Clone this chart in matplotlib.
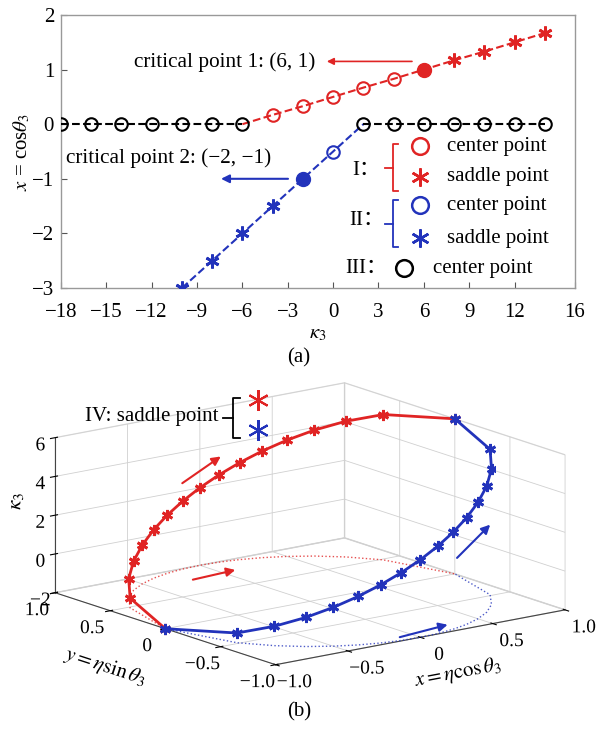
import matplotlib
matplotlib.use('Agg')
import matplotlib.pyplot as plt
import matplotlib.patheffects as pe
from matplotlib.lines import Line2D

plt.rcParams['font.family'] = ['Liberation Serif', 'Noto Sans CJK SC', 'DejaVu Sans']
plt.rcParams['mathtext.fontset'] = 'stix'
plt.rcParams['axes.unicode_minus'] = True

RED = '#e02424'
BLUE = '#2233bb'
STAR = (6, 2, 0)

# ---------------- panel (a) data ----------------
black_left_k = [-18, -16, -14, -12, -10, -8, -6]
black_left_x = [0, 0, 0, 0, 0, 0, 0]
black_right_k = [2, 4, 6, 8, 10, 12, 14]
black_right_x = [0, 0, 0, 0, 0, 0, 0]

red_k = [-6, -4, -2, 0, 2, 4, 6, 8, 10, 12, 14]
red_x = [0, 0.17, 0.33, 0.5, 0.67, 0.83, 1.0, 1.17, 1.33, 1.5, 1.67]
red_kind = ['end', 'c', 'c', 'c', 'c', 'c', 'crit', 's', 's', 's', 's']

blue_k = [-10, -8, -6, -4, -2, 0, 2]
blue_x = [-3, -2.5, -2, -1.5, -1, -0.5, 0]
blue_kind = ['s', 's', 's', 's', 'crit', 'c', 'end']

xticks_a = [-18, -15, -12, -9, -6, -3, 0, 3, 6, 9, 12, 16]
yticks_a = [-3, -2, -1, 0, 1, 2]

crit1 = (6, 1)
crit2 = (-2, -1)

# ---------------- panel (b) data ----------------
kappa3 = [-2, -1.5, -1, -0.5, 0, 0.5, 1, 1.5, 2, 2.5, 3, 3.5, 4, 4.5, 5, 5.5, 6]
eta_cos = [-1, -0.875, -0.75, -0.625, -0.5, -0.375, -0.25, -0.125, 0,
           0.125, 0.25, 0.375, 0.5, 0.625, 0.75, 0.875, 1]
eta_sin_red = [0, 0.484, 0.661, 0.781, 0.866, 0.927, 0.968, 0.992, 1,
               0.992, 0.968, 0.927, 0.866, 0.781, 0.661, 0.484, 0]
eta_sin_blue = [-v for v in eta_sin_red]
floor_z = [-2] * len(kappa3)
ticks_xy = [-1.0, -0.5, 0, 0.5, 1.0]
ticklabels_xy = ['\u22121.0', '\u22120.5', '0', '0.5', '1.0']
ticks_z = [-2, 0, 2, 4, 6]

fig = plt.figure(figsize=(5.98, 7.29), dpi=100)

def nudge(text, dx_px, dy_px):
    # offset a text's rendering (dy positive = up), in pixels
    text.set_path_effects([pe.Stroke(offset=(dx_px * 0.72, dy_px * 0.72))])

# ================= panel (a) =================
ax = fig.add_axes([61/598, 1-288/729, 514/598, 273/729])
ax.set_xlim(-18, 16)
ax.set_ylim(-3, 2)

def sel(ks, xs, kinds, kind):
    return ([k for k, t in zip(ks, kinds) if t == kind],
            [x for x, t in zip(xs, kinds) if t == kind])

ax.plot(red_k, red_x, '--', color=RED, lw=1.5, zorder=2)
k, x = sel(red_k, red_x, red_kind, 'c')
ax.plot(k, x, 'o', ms=9, mfc='none', mec=RED, mew=1.5, zorder=3)
k, x = sel(red_k, red_x, red_kind, 's')
ax.plot(k, x, ls='none', marker=STAR, ms=10, mec=RED, mew=2, zorder=3)
k, x = sel(red_k, red_x, red_kind, 'crit')
ax.plot(k, x, 'o', ms=10, color=RED, zorder=3)

ax.plot(blue_k, blue_x, '--', color=BLUE, lw=1.5, zorder=2)
k, x = sel(blue_k, blue_x, blue_kind, 'c')
ax.plot(k, x, 'o', ms=9, mfc='none', mec=BLUE, mew=1.5, zorder=3)
k, x = sel(blue_k, blue_x, blue_kind, 's')
ax.plot(k, x, ls='none', marker=STAR, ms=10, mec=BLUE, mew=2, zorder=3)
k, x = sel(blue_k, blue_x, blue_kind, 'crit')
ax.plot(k, x, 'o', ms=10, color=BLUE, zorder=3)

for kk, xx in ((black_left_k, black_left_x), (black_right_k, black_right_x)):
    ax.plot(kk, xx, '--', color='black', lw=1.5, marker='o', ms=9,
            mfc='none', mec='black', mew=1.5, zorder=4)

ax.annotate('', xy=(-0.6, crit1[1] + 0.15), xytext=(crit1[0] - 0.6, crit1[1] + 0.15),
            arrowprops=dict(arrowstyle='-|>', color=RED, lw=1.2, mutation_scale=10))
ax.text(-13.2, 1.14, 'critical point 1: (6, 1)', fontsize=15.3, va='center', ha='left')
ax.annotate('', xy=(-7.6, crit2[1]), xytext=(crit2[0] - 0.8, crit2[1]),
            arrowprops=dict(arrowstyle='-|>', color=BLUE, lw=1.5, mutation_scale=12))
ax.text(-17.7, -0.62, 'critical point 2: (\u22122, \u22121)', fontsize=15.3, va='center', ha='left')

ax.set_xticks(xticks_a)
ax.set_xticklabels([str(v).replace('-', '\u2212') for v in xticks_a])
ax.set_yticks(yticks_a)
ax.set_yticklabels([str(v).replace('-', '\u2212') for v in yticks_a])
ax.tick_params(direction='in', length=4, labelsize=15, color='#555555', pad=5)
ax.tick_params(axis='x', pad=11)
for s in ax.spines.values():
    s.set_color('#999999')
    s.set_linewidth(1.0)
ax.set_xlabel(r'$\kappa_3$', fontsize=15, labelpad=1.5)
ax.set_ylabel(r'$x$ = cos$\theta_3$', fontsize=15, labelpad=0)
fig.text(0.5, 1 - 358/729, '(a)', fontsize=15, ha='center', va='center')

# custom bracket legend
T = ax.transAxes
def bracket(x, y0, y1, color):
    ym = (y0 + y1) / 2
    ax.add_line(Line2D([x + 0.011, x, x, x + 0.011], [y0, y0, y1, y1], transform=T,
                       color=color, lw=1.3, clip_on=False))
    ax.add_line(Line2D([x - 0.014, x], [ym, ym], transform=T, color=color, lw=1.3, clip_on=False))

ax.text(0.594, 0.432, 'I\uff1a', transform=T, fontsize=15, ha='center', va='center')
bracket(0.645, 0.527, 0.355, RED)
ax.plot([0.699], [0.520], 'o', transform=T, ms=12, mfc='none', mec=RED, mew=1.8)
ax.plot([0.699], [0.407], transform=T, ls='none', marker=STAR, ms=13, mec=RED, mew=1.8)
ax.text(0.751, 0.520, 'center point', transform=T, fontsize=15, va='center')
ax.text(0.751, 0.407, 'saddle point', transform=T, fontsize=15, va='center')

ax.text(0.594, 0.249, 'II\uff1a', transform=T, fontsize=15, ha='center', va='center')
bracket(0.645, 0.322, 0.150, BLUE)
ax.plot([0.699], [0.304], 'o', transform=T, ms=12, mfc='none', mec=BLUE, mew=1.8)
ax.plot([0.699], [0.183], transform=T, ls='none', marker=STAR, ms=13, mec=BLUE, mew=1.8)
ax.text(0.751, 0.304, 'center point', transform=T, fontsize=15, va='center')
ax.text(0.751, 0.183, 'saddle point', transform=T, fontsize=15, va='center')

ax.text(0.594, 0.073, 'III\uff1a', transform=T, fontsize=15, ha='center', va='center')
ax.plot([0.668], [0.073], 'o', transform=T, ms=12, mfc='none', mec='black', mew=1.8)
ax.text(0.724, 0.073, 'center point', transform=T, fontsize=15, va='center')

# ================= panel (b) =================
plt.rcParams['grid.color'] = '#d0d0d0'
plt.rcParams['grid.linewidth'] = 0.6
ax2 = fig.add_axes([0.03, 0.0145, 0.96, 0.52], projection='3d', proj_type='ortho')
ax2.patch.set_facecolor('none')
ax2.view_init(elev=14.4, azim=-127.3)
ax2.set_box_aspect((1, 1, 0.44), zoom=1.38)
ax2.set_xlim(-1, 1)
ax2.set_ylim(-1, 1)
ax2.set_zlim(-2, 6)
for a in (ax2.xaxis, ax2.yaxis, ax2.zaxis):
    a.pane.fill = False
    a.pane.set_edgecolor('#d0d0d0')
    a.line.set_color('#444444')
    a.line.set_linewidth(0.8)

ax2.plot(eta_cos, eta_sin_red, floor_z, ':', color=RED, lw=1.0, alpha=0.8)
ax2.plot(eta_cos, eta_sin_blue, floor_z, ':', color=BLUE, lw=1.0, alpha=0.8)
ax2.plot(eta_cos, eta_sin_red, kappa3, '-', color=RED, lw=2, marker=STAR, ms=8, mew=2)
ax2.plot(eta_cos, eta_sin_blue, kappa3, '-', color=BLUE, lw=2, marker=STAR, ms=8, mew=2)

ax2.set_xticks(ticks_xy)
ax2.set_xticklabels(ticklabels_xy)
ax2.set_yticks(ticks_xy)
ax2.set_yticklabels(ticklabels_xy)
ax2.set_zticks(ticks_z)
ax2.set_zticklabels([str(v).replace('-', '\u2212') for v in ticks_z])
ax2.tick_params(labelsize=14)
ax2.tick_params(axis='x', pad=-3)
ax2.tick_params(axis='y', pad=-3)
ax2.tick_params(axis='z', pad=-5)
ax2.set_xlabel(r'$x = \eta\cos\theta_3$', fontsize=15, labelpad=-2)
ax2.set_ylabel(r'$y = \eta\sin\theta_3$', fontsize=15, labelpad=0)
ax2.set_zlabel(r'$\kappa_3$', fontsize=15, labelpad=-12)

for lbl in ax2.get_xticklabels():
    nudge(lbl, 11, -1.5)
for lbl in ax2.get_yticklabels():
    nudge(lbl, -8, -2)
for lbl in ax2.get_zticklabels():
    nudge(lbl, -4, 0)
nudge(ax2.xaxis.label, 9, -5)
nudge(ax2.yaxis.label, -16, -7)
nudge(ax2.zaxis.label, -7, 13)

# arrows (figure coordinates)
def farrow(p0, p1, color):
    fig.add_artist(matplotlib.patches.FancyArrowPatch(
        p0, p1, transform=fig.transFigure, arrowstyle='-|>', color=color,
        lw=1.5, mutation_scale=13))
farrow((0.301, 0.335), (0.373, 0.376), RED)
farrow((0.318, 0.204), (0.398, 0.219), RED)
farrow((0.664, 0.125), (0.753, 0.144), BLUE)
farrow((0.761, 0.232), (0.823, 0.283), BLUE)

fig.text(0.142, 0.428, 'IV: saddle point', fontsize=15, va='center', ha='left')
bx = 0.390
fig.add_artist(Line2D([bx + 0.011, bx, bx, bx + 0.011], [0.454, 0.454, 0.399, 0.399],
                      transform=fig.transFigure, color='black', lw=1.3))
fig.add_artist(Line2D([bx - 0.017, bx], [0.427, 0.427], transform=fig.transFigure,
                      color='black', lw=1.3))
fig.add_artist(Line2D([0.431], [0.451], transform=fig.transFigure, ls='none',
                      marker=STAR, ms=15, mec=RED, mew=1.5))
fig.add_artist(Line2D([0.431], [0.410], transform=fig.transFigure, ls='none',
                      marker=STAR, ms=15, mec=BLUE, mew=1.5))
fig.text(0.5, 1 - 712/729, '(b)', fontsize=15, ha='center', va='center')

fig.savefig('out.png', dpi=100)
